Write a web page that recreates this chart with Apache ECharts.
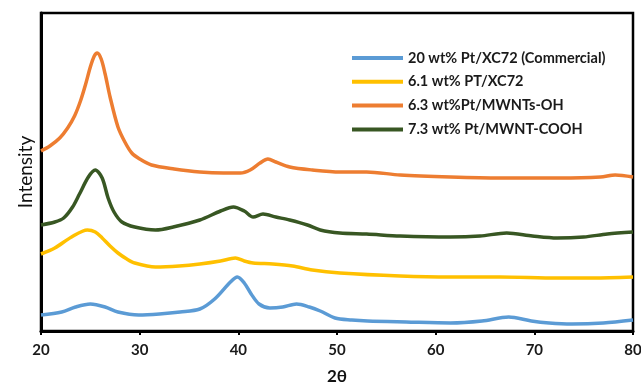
<!DOCTYPE html>
<html>
<head>
<meta charset="utf-8">
<script src="https://cdn.jsdelivr.net/npm/echarts@6/dist/echarts.min.js"></script>
<style>html,body{margin:0;padding:0;background:#fff;}#c{width:641px;height:386px;}</style>
</head>
<body>
<div id="c"></div>
<script>
var seriesNames = ['20 wt% Pt/XC72 (Commercial)', '6.1 wt% PT/XC72', '6.3 wt%Pt/MWNTs-OH', '7.3 wt% Pt/MWNT-COOH'];
var colors = ['#5B9BD5', '#FFC000', '#ED7D31', '#385723'];
var xTicks = [20, 30, 40, 50, 60, 70, 80];

var blue = [[20,16],[22.1,19],[23.5,24],[25.0,27],[26.5,24],[27.8,19],[29.9,16],[32.0,17],[34.1,19],[36.1,22],[37.6,32],[39.2,49],[39.9,54],[40.6,48],[41.3,37],[42.1,27],[43.2,23],[44.5,24],[45.9,27],[47.2,24],[48.3,20],[49.8,13],[51.5,11],[53.1,10],[57.0,9],[61.5,8],[64.7,10],[67.4,14],[69.7,10],[71.5,8],[73.8,7],[77.0,8],[80,11]];
var yellow = [[20,77],[21.4,83],[23.1,94],[24.7,101],[25.5,99],[26.2,93],[27.0,85],[27.8,78],[28.7,72],[29.5,68],[31.6,64],[34.0,65],[36.1,67],[38.2,70],[39.7,73],[40.6,70],[41.5,68],[43.5,67],[45.5,65],[47.5,61],[50.3,58],[56.4,55],[61.5,54],[66.5,54],[72.3,53],[76.0,53],[80,54]];
var orange = [[20,180],[20.9,185],[21.9,193],[22.7,203],[23.4,215],[24.0,230],[24.5,246],[25.0,264],[25.4,275],[25.7,278],[26.1,272],[26.5,257],[27.0,234],[27.8,204],[28.5,189],[29.2,178],[30.0,172],[31.2,166],[33.5,162],[36.1,159],[38.5,158],[40.2,158],[41.2,161],[42.2,168],[43.0,172],[43.8,169],[45.2,164],[47.5,161],[50.3,159],[53.0,159],[56.4,156],[61.5,154],[66.5,153],[72.6,153],[76.7,154],[78.2,156],[80,154]];
var green = [[20,106],[21.4,109],[22.3,113],[23.2,124],[23.9,137],[24.8,154],[25.5,161],[26.2,153],[26.8,133],[27.4,119],[28.2,109],[29.5,104],[31.6,101],[33.4,104],[36.1,111],[38.2,120],[39.5,124],[40.6,120],[41.5,114],[42.5,117],[43.8,114],[45.2,111],[47.0,106],[48.3,101],[50.3,98],[53.0,97],[56.4,95],[61.5,94],[64.5,95],[67.2,98],[69.8,95],[72.3,93],[75.0,94],[77.4,97],[80,99]];

var data = [blue, yellow, orange, green];

var chart = echarts.init(document.getElementById('c'), null, {renderer: 'canvas'});
var series = data.map(function (d, i) {
  return {
    name: seriesNames[i],
    type: 'line',
    data: d,
    smooth: 0.3,
    showSymbol: false,
    symbol: 'none',
    lineStyle: {color: colors[i], width: 3.5},
    itemStyle: {color: colors[i]},
    z: 3
  };
});

chart.setOption({
  animation: false,
  backgroundColor: '#fff',
  grid: {left: 41, right: 8, top: 13, bottom: 55, outerBoundsMode: 'none', containLabel: false,
    show: true, borderColor: '#000', borderWidth: 2.5, backgroundColor: 'transparent'},
  legend: {
    orient: 'vertical',
    left: 347,
    top: 45,
    icon: 'rect',
    itemWidth: 51,
    itemHeight: 4,
    itemGap: 7.8,
    data: seriesNames,
    textStyle: {fontFamily: 'Lato', fontSize: 14.5, fontWeight: 'bold', color: '#1a1a1a', lineHeight: 16}
  },
  xAxis: {
    type: 'value',
    min: 20,
    max: 80,
    interval: 10,
    name: '2θ',
    nameLocation: 'middle',
    nameGap: 37,
    nameTextStyle: {fontFamily: 'Lato', fontSize: 17, fontWeight: 'bold', color: '#111'},
    axisLine: {show: true, onZero: false, lineStyle: {color: '#000', width: 3}},
    axisTick: {show: true, length: 4, lineStyle: {color: '#000', width: 2}},
    axisLabel: {margin: 12, fontFamily: 'Lato', fontSize: 15, fontWeight: 'bold', color: '#1a1a1a',
      formatter: function (v) { return xTicks.indexOf(v) >= 0 ? String(v) : ''; }},
    splitLine: {show: false}
  },
  yAxis: {
    type: 'value',
    min: 0,
    max: 318,
    name: 'Intensity',
    nameLocation: 'middle',
    nameGap: 6,
    nameTextStyle: {fontFamily: 'Lato', fontSize: 19, color: '#111'},
    axisLine: {show: true, lineStyle: {color: '#000', width: 3}},
    axisTick: {show: false},
    axisLabel: {show: false},
    splitLine: {show: false}
  },
  series: series
});
</script>
</body>
</html>
